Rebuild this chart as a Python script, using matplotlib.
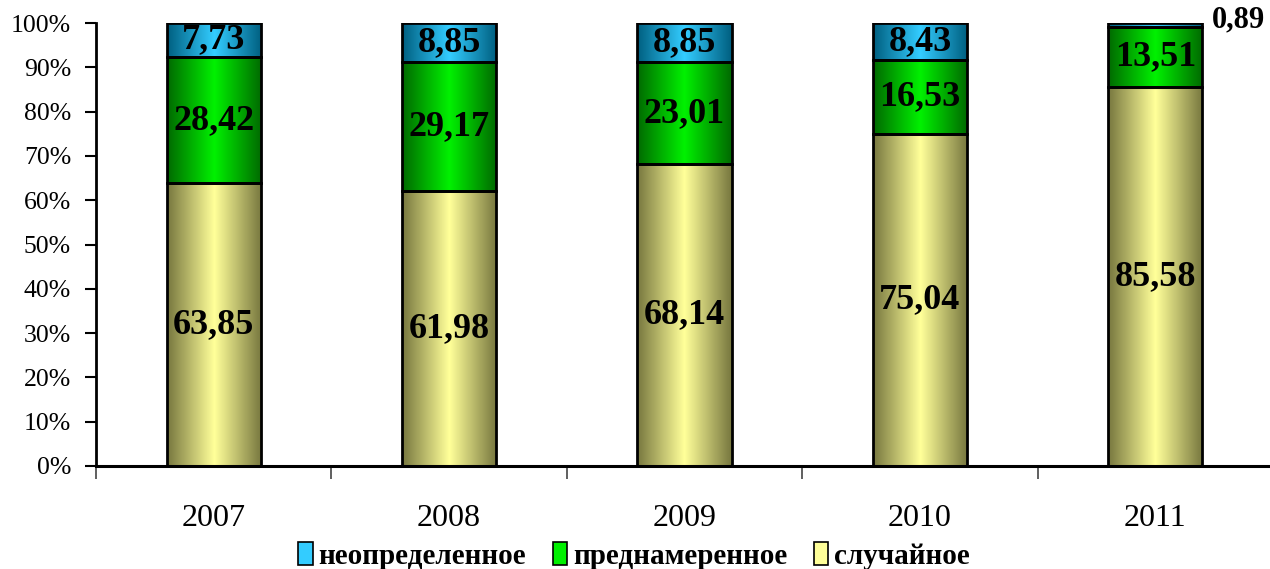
import numpy as np
import matplotlib.pyplot as plt
from matplotlib.colors import LinearSegmentedColormap

years = ["2007", "2008", "2009", "2010", "2011"]
random_part = [63.85, 61.98, 68.14, 75.04, 85.58]      # случайное
intended_part = [28.42, 29.17, 23.01, 16.53, 13.51]    # преднамеренное
unknown_part = [7.73, 8.85, 8.85, 8.43, 0.89]          # неопределенное

plt.rcParams['font.family'] = ['Liberation Serif', 'DejaVu Serif']

fig = plt.figure(figsize=(12.7, 5.69), dpi=100)
ax = fig.add_axes([96 / 1270, 1 - 466 / 569, 1177 / 1270, 443 / 569])

x = np.arange(len(years))
w = 0.4

series = [
    (random_part, "случайное", ["#77773f", "#ffff99", "#77773f"]),
    (intended_part, "преднамеренное", ["#006a00", "#00f000", "#006a00"]),
    (unknown_part, "неопределенное", ["#005f80", "#33ccff", "#005f80"]),
]

grad = np.concatenate([np.linspace(0, 1, 64), np.linspace(1, 0, 64)])[None, :]
bottom = np.zeros(len(years))
handles = []
for vals, name, cols in series:
    cmap = LinearSegmentedColormap.from_list(name, [cols[0], cols[1]])
    bars = ax.bar(x, vals, w, bottom=bottom, facecolor="none",
                  edgecolor="black", linewidth=2, zorder=3)
    for b in bars:
        im = ax.imshow(grad, cmap=cmap, aspect="auto", zorder=2,
                       extent=(b.get_x(), b.get_x() + b.get_width(),
                               b.get_y(), b.get_y() + b.get_height()))
        im.set_clip_path(b)
    handles.append(plt.Rectangle((0, 0), 1, 1, facecolor=cols[1],
                                 edgecolor="black", linewidth=1.2))
    for i, v in enumerate(vals):
        txt = f"{v:.2f}".replace(".", ",")
        if v < 2:
            ax.text(x[i] + w / 2 + 0.04, 100.6, txt, ha="left",
                    va="center", fontsize=22, fontweight="bold", zorder=4)
        else:
            ax.text(x[i], bottom[i] + v / 2, txt, ha="center", va="center",
                    fontsize=26, fontweight="bold", zorder=4)
    bottom += np.array(vals)

ax.set_xlim(-0.5, 4.5)
ax.set_ylim(0, 100)
ax.set_yticks(np.arange(0, 101, 10))
ax.set_yticklabels([f"{v}%" for v in range(0, 101, 10)], fontsize=18.5)
ax.set_xticks(x)
ax.set_xticklabels(years, fontsize=23)
ax.set_xticks(np.arange(-0.5, 4.6, 1), minor=True)
ax.tick_params(axis="x", which="major", length=0, pad=27)
ax.tick_params(axis="x", which="minor", length=9, width=1.2, color="#444444")
ax.tick_params(axis="y", length=8, width=1.5, pad=10)
for s in ["top", "right"]:
    ax.spines[s].set_visible(False)
ax.spines["left"].set_linewidth(2)
ax.spines["bottom"].set_linewidth(2.2)
ax.spines["bottom"].set_zorder(5)

fig.legend(handles[::-1], [s[1] for s in series][::-1], loc="center",
           bbox_to_anchor=(634 / 1270, 1 - 556 / 569), ncol=3, frameon=False,
           prop={"weight": "bold", "size": 21}, handlelength=0.5,
           handleheight=0.8, handletextpad=0.2, columnspacing=0.9,
           borderpad=0.1)

fig.savefig("out.png", dpi=100)
